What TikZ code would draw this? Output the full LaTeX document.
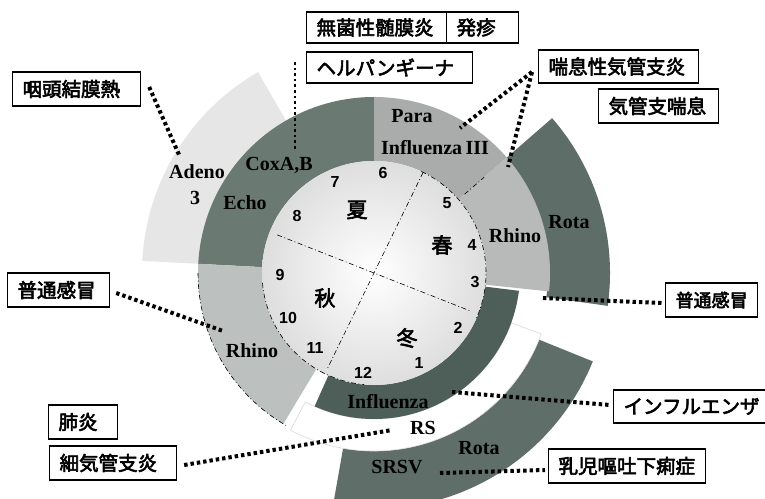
\documentclass[tikz,border=0pt]{standalone}
\usepackage{fontspec}
\setmainfont{Liberation Serif}
\newfontfamily\cjk{Noto Sans CJK JP}[FakeBold=3]
\newfontfamily\sansnum{Liberation Sans}
\definecolor{adenoC}{HTML}{E6E6E6}
\definecolor{darkRing}{HTML}{6A7A73}
\definecolor{rhinoL}{HTML}{BCC1BF}
\definecolor{paraC}{HTML}{A9ACAA}
\definecolor{rhinoR}{HTML}{B7BAB8}
\definecolor{rotaR}{HTML}{5E6D67}
\definecolor{influC}{HTML}{4E5E58}
\definecolor{bottomC}{HTML}{5F6E68}
\newcommand\ringseg[5]{\fill[#1] (#2:#4) arc[start angle=#2,end angle=#3,radius=#4] -- (#3:#5) arc[start angle=#3,end angle=#2,radius=#5] -- cycle;}
\begin{document}
\begin{tikzpicture}[x=1pt,y=-1pt,
  box/.style={draw, line width=1.2pt, anchor=west, inner xsep=10pt, inner ysep=0pt, align=left, font=\cjk\fontsize{19.5}{20}\selectfont},
  dotl/.style={line width=4pt, dash pattern=on 3.4pt off 3pt, black},
  ddash/.style={line width=0.6pt, dash pattern=on 5pt off 2.5pt on 1pt off 2.5pt},
  ringlbl/.style={font=\bfseries\fontsize{20}{20}\selectfont, inner sep=0pt},
  num/.style={font=\sansnum\bfseries\fontsize{16}{16}\selectfont, inner sep=0pt},
  season/.style={font=\cjk\fontsize{21}{21}\selectfont, inner sep=0pt}]
\useasboundingbox (0,0) rectangle (765,498);
\fill[white] (0,0) rectangle (765,498);

\begin{scope}[shift={(374,273)}, y=1pt]
  \ringseg{adenoC}{120}{177}{170}{232}
  \ringseg{rotaR}{-8}{41}{174}{236}
  \ringseg{bottomC}{-100}{-22}{178}{236}
  \filldraw[fill=white, draw=black!15, line width=0.6pt] (-118:146) arc[start angle=-118,end angle=-20,radius=146] -- (-20:178) arc[start angle=-20,end angle=-118,radius=178] -- cycle;
  \ringseg{darkRing}{90}{177}{110}{176}
  \ringseg{rhinoL}{177}{239}{110}{176}
  \ringseg{paraC}{41}{90}{110}{176}
  \ringseg{rhinoR}{-6}{41}{110}{176}
  \ringseg{influC}{-114}{-7}{110}{146}
  \fill[white] (0,0) circle (112);
  \shade[inner color=white, outer color=black!13] (0,0) circle (112);
  \draw[ddash] (65:112) arc[start angle=65,end angle=-25,radius=112];
  \draw[ddash] (185:112) arc[start angle=185,end angle=265,radius=112];
  \draw[ddash] (180:176) arc[start angle=180,end angle=240,radius=176];
  \draw[ddash] (41:120) -- (41:146);
  \draw[ddash] (158.5:104) -- (-21.5:104);
  \draw[ddash] (64:112) -- (244:108);
\end{scope}

% seasons and months
\node[season] (summer) at (357,210) {夏};
\node[season] (spring) at (442,245) {春};
\node[season] (autumn) at (325,298) {秋};
\node[season] (winter) at (407,338) {冬};
\node[num] (m1) at (419,363) {1};
\node[num] (m2) at (458,328) {2};
\node[num] (m3) at (475,282) {3};
\node[num] (m4) at (472,245) {4};
\node[num] (m5) at (447,203) {5};
\node[num] (m6) at (383,173) {6};
\node[num] (m7) at (335,182) {7};
\node[num] (m8) at (297,216) {8};
\node[num] (m9) at (280,275) {9};
\node[num] (m10) at (288,318) {10};
\node[num] (m11) at (315,348) {11};
\node[num] (m12) at (363,373) {12};

% ring labels
\node[ringlbl] (para) at (412,116) {Para};
\node[ringlbl] (influ3) at (435,148) {Influenza\,III};
\node[ringlbl] (cox) at (279,165) {CoxA,B};
\node[ringlbl] (echo) at (245,203) {Echo};
\node[ringlbl] (adeno) at (197,172) {Adeno};
\node[ringlbl] (adeno3) at (195,198) {3};
\node[ringlbl] (rhinoR) at (515,236) {Rhino};
\node[ringlbl] (rotaR) at (569,222) {Rota};
\node[ringlbl] (rhinoL) at (252,351) {Rhino};
\node[ringlbl] (influ) at (388,402) {Influenza};
\node[ringlbl] (rs) at (423,428) {RS};
\node[ringlbl] (rotaB) at (479,448) {Rota};
\node[ringlbl] (srsv) at (397,467) {SRSV};

% label boxes
\node[box, text width=108pt, minimum height=34pt] (b1) at (12,89) {咽頭結膜熱};
\node[box, text width=120pt, minimum height=31pt] (b2) at (306,27.5) {無菌性髄膜炎};
\node[box, text width=52pt, minimum height=31pt] (b3) at (446,27.5) {発疹};
\node[box, text width=146pt, minimum height=31pt] (b4) at (306,67.5) {ヘルパンギーナ};
\node[box, text width=140pt, minimum height=33pt] (b5) at (538,66.5) {喘息性気管支炎};
\node[box, text width=100pt, minimum height=34pt] (b6) at (598,106) {気管支喘息};
\node[box, text width=82pt, minimum height=34pt] (b7) at (7,290) {普通感冒};
\node[box, text width=72pt, minimum height=34pt, font=\cjk\fontsize{18}{18}\selectfont] (b8) at (665,300) {普通感冒};
\node[box, text width=49pt, minimum height=34pt] (b9) at (48,422) {肺炎};
\node[box, text width=107pt, minimum height=34pt] (b10) at (49,463) {細気管支炎};
\node[box, text width=142pt, minimum height=33pt] (b11) at (613,406.5) {インフルエンザ};
\node[box, text width=137pt, minimum height=34pt] (b12) at (548,466) {乳児嘔吐下痢症};

% connector ends
\coordinate (cAdeno) at (180,157);
\coordinate (cHerpT) at (295,62);
\coordinate (cHerpB) at (295,150);
\coordinate (cPara) at (460,128);
\coordinate (cRhinoR) at (508,167);
\coordinate (cRhinoL) at (223,331);
\coordinate (cRota) at (543,298);
\coordinate (cInfl) at (452,392);
\coordinate (cRS) at (392,430);
\coordinate (cSRSV) at (440,473);

\draw[dotl] ([xshift=8pt,yshift=2pt]b1.east) -- (cAdeno);
\draw[dotl, line width=2.8pt, dash pattern=on 2.6pt off 3pt] (cHerpT) -- (cHerpB);
\draw[dotl] ([xshift=-6pt,yshift=-5.5pt]b5.west) -- (cPara);
\draw[dotl] ([xshift=-6pt,yshift=-5.5pt]b5.west) -- (cRhinoR);
\draw[dotl] ([xshift=6pt,yshift=-3pt]b7.east) -- (cRhinoL);
\draw[dotl] (cRota) -- ([xshift=-3pt,yshift=-3pt]b8.west);
\draw[dotl] (cInfl) -- ([xshift=-3pt,yshift=1.5pt]b11.west);
\draw[dotl] ([xshift=7pt,yshift=-2pt]b10.east) -- (cRS);
\draw[dotl] (cSRSV) -- ([xshift=-3pt,yshift=-4pt]b12.west);
\end{tikzpicture}
\end{document}
